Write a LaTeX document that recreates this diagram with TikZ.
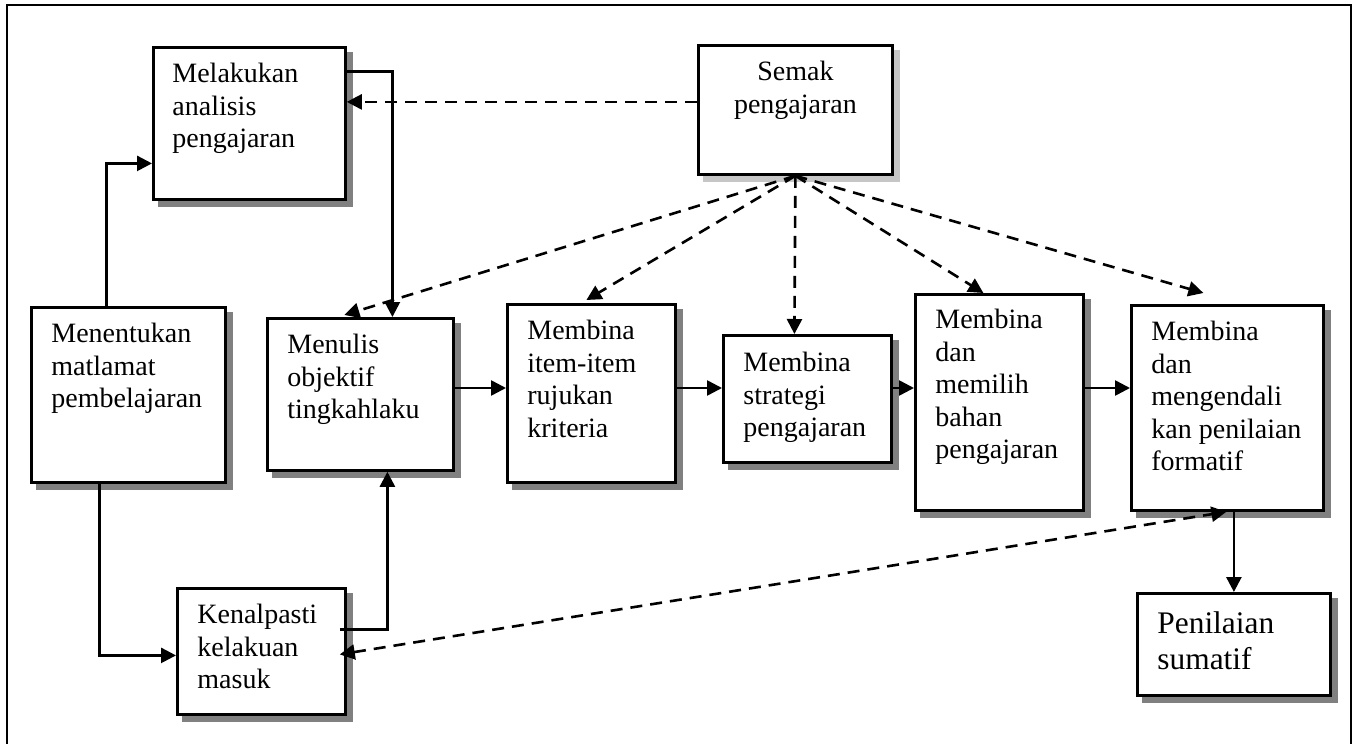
\documentclass[tikz,border=0pt]{standalone}
\usepackage{fontspec}
\setmainfont{Liberation Serif}
\usetikzlibrary{arrows.meta,positioning,backgrounds}
\tikzset{
    box/.style={rectangle, draw, line width=1.4pt, fill=white, anchor=north west, inner sep=0pt},
    box text/.style={inner sep=0pt, anchor=north west, align=left, font=\fontsize{14}{16.25}\selectfont},
    big text/.style={box text, font=\fontsize{15.7}{18}\selectfont},
    flow/.style={line width=1.3pt, -{Triangle[length=7.5pt,width=7.5pt]}},
    dflow/.style={flow, dash pattern=on 6pt off 4pt}
}

\begin{document}
\begin{tikzpicture}[x=0.5pt, y=-0.5pt]
    \useasboundingbox (0,0) rectangle (1360,744);
    % frame
    \draw[line width=1.2pt] (7,744) -- (7,5) -- (1351,5) -- (1351,744);

    % boxes
    \node[box, minimum width=96pt, minimum height=76pt] (ana) at (152,46) {};
    \node[box, minimum width=97pt, minimum height=64.5pt] (semak) at (697,44) {};
    \node[box, minimum width=97pt, minimum height=87.5pt] (tuj) at (30,306) {};
    \node[box, minimum width=93pt, minimum height=76pt] (obj) at (266,317) {};
    \node[box, minimum width=84pt, minimum height=63pt] (masuk) at (176,587) {};
    \node[box, minimum width=84pt, minimum height=89pt] (item) at (506,303) {};
    \node[box, minimum width=84pt, minimum height=63.5pt] (strat) at (722,334) {};
    \node[box, minimum width=84pt, minimum height=108pt] (bahan) at (914,293) {};
    \node[box, minimum width=96pt, minimum height=102.5pt] (form) at (1130,304) {};
    \node[box, minimum width=96.5pt, minimum height=51pt] (sum) at (1136,592) {};

    % shadows
    \begin{pgfonlayer}{background}
        \foreach \n in {ana, tuj, obj, masuk, item, strat, bahan, form, sum}
            \fill[gray] ([shift={(6,6)}]\n.south west) rectangle ([shift={(6,6)}]\n.north east);
        \fill[gray!45] ([shift={(6,6)}]semak.south west) rectangle ([shift={(6,6)}]semak.north east);
    \end{pgfonlayer}

    % texts
    \node[box text] (ana-t) at ([shift={(20,17)}]ana.north west) {Melakukan\\analisis\\pengajaran};
    \node[box text, anchor=north, align=center] (semak-t) at ([shift={(0,17)}]semak.north) {Semak\\pengajaran};
    \node[box text] (tuj-t) at ([shift={(21,17)}]tuj.north west) {Menentukan\\matlamat\\pembelajaran};
    \node[box text] (obj-t) at ([shift={(21,17)}]obj.north west) {Menulis\\objektif\\tingkahlaku};
    \node[box text] (masuk-t) at ([shift={(21,17)}]masuk.north west) {Kenalpasti\\kelakuan\\masuk};
    \node[box text] (item-t) at ([shift={(21,17)}]item.north west) {Membina\\item-item\\rujukan\\kriteria};
    \node[box text] (strat-t) at ([shift={(21,18)}]strat.north west) {Membina\\strategi\\pengajaran};
    \node[box text] (bahan-t) at ([shift={(21,16)}]bahan.north west) {Membina\\dan\\memilih\\bahan\\pengajaran};
    \node[box text] (form-t) at ([shift={(21,17)}]form.north west) {Membina\\dan\\mengendali\\kan penilaian\\formatif};
    \node[big text] (sum-t) at ([shift={(21,19)}]sum.north west) {Penilaian\\sumatif};

    % solid connectors
    \draw[flow] ([shift={(-22,0)}]tuj.north) |- ([shift={(0,40)}]ana.west);
    \draw[flow] ([shift={(-29,0)}]tuj.south) |- ([shift={(0,4)}]masuk.west);
    \draw[flow] ([shift={(0,-52)}]ana.east) -| ([shift={(32,0)}]obj.north);
    \draw[flow] ([shift={(-7,-22)}]masuk.east) -| ([shift={(27,0)}]obj.south);
    \foreach \a/\b in {obj/item, item/strat, strat/bahan, bahan/form}
        \draw[flow] (\a.east |- 0,388) -- (\b.west |- 0,388);
    \draw[flow] (form.south -| sum.north) -- (sum.north);

    % dashed connectors
    \draw[dflow] ([shift={(0,-8)}]semak.west) -- ([shift={(0,-8)}]semak.west -| ana.east);
    \draw[dflow] (semak.south) -- ([shift={(-16,-2)}]obj.north);
    \draw[dflow] (semak.south) -- ([shift={(-5,-3)}]item.north);
    \draw[dflow] (semak.south) -- ([shift={(-13,0)}]strat.north);
    \draw[dflow] (semak.south) -- ([shift={(-16,0)}]bahan.north);
    \draw[dflow] (semak.south) -- ([shift={(-24,-11)}]form.north);
    \draw[dflow, {Triangle[length=7.5pt,width=7.5pt]}-{Triangle[length=7.5pt,width=7.5pt]}] ([shift={(-7,3)}]masuk.east) -- ([shift={(-1,0)}]form.south);
\end{tikzpicture}
\end{document}
